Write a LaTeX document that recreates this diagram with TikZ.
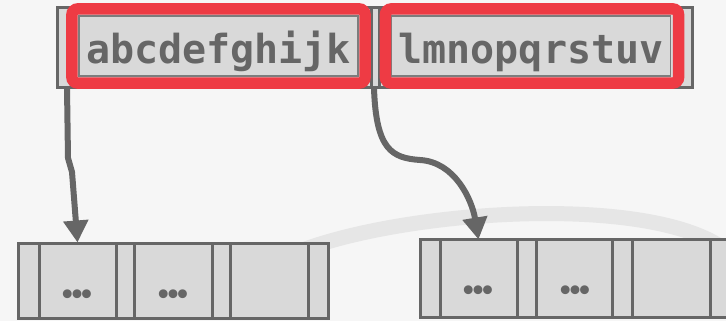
\documentclass[tikz,border=0pt]{standalone}
\usepackage{fontspec}
\usetikzlibrary{arrows.meta}
\newfontfamily\keyfont{DejaVu Sans Mono}
\newfontfamily\dotfont{DejaVu Sans}
\definecolor{bg}{HTML}{F6F6F6}
\definecolor{cellfill}{HTML}{D9D9D9}
\definecolor{edge}{HTML}{666666}
\definecolor{hl}{HTML}{EE3B44}
\definecolor{ghost}{HTML}{E6E6E6}
\newcommand{\threedots}{•\kern-6.4pt•\kern-6.4pt•}
\begin{document}
\begin{tikzpicture}[x=1pt,y=-1pt,
 cellbox/.style={draw=edge, fill=cellfill, line width=3pt, inner sep=0pt},
 keybox/.style={draw=edge!85, fill=cellfill, line width=1.2pt, inner sep=0pt, minimum width=279pt, text height=48pt, text depth=12pt, font=\keyfont\bfseries\fontsize{40}{40}\selectfont, text=edge},
 redbox/.style={draw=hl, line width=11.5pt, rounded corners=6pt},
 ptr/.style={draw=edge, line width=6pt, line join=round, -{Triangle[width=24pt,length=22pt]}},
 dotmark/.style={font=\dotfont\bfseries\fontsize{25}{25}\selectfont, text=edge, inner sep=0pt}
]
\useasboundingbox (0,0) rectangle (726,321);
\fill[bg] (0,0) rectangle (726,321);
\clip (0,0) rectangle (726,321);

% faint background arc
\draw[ghost, line width=15pt] (295,253) .. controls (400,210) and (655,192) .. (728,252);

% top node
\node[cellbox, minimum width=635pt, minimum height=80pt] (top) at (374.5,48) {};
\draw[edge, line width=3pt] (371.5,8) -- (371.5,88);
\draw[edge, line width=3pt] (379.5,8) -- (379.5,88);
\node[keybox] (K1) at (218.5,46) {abcdefghijk};
\node[keybox] (K2) at (531,46) {lmnopqrstuv};
\draw[redbox] ([shift={(-6.5,-6.5)}]K1.north west) rectangle ([shift={(6.5,6.5)}]K1.south east);
\draw[redbox] ([shift={(-5.5,-6.5)}]K2.north west) rectangle ([shift={(7.5,6.5)}]K2.south east);

% bottom left node
\node[cellbox, minimum width=21pt, minimum height=75pt] (L0) at (28.5,280.5) {};
\node[cellbox, minimum width=77pt, minimum height=75pt] (L1) at (77.5,280.5) {};
\node[cellbox, minimum width=18pt, minimum height=75pt] (L2) at (125,280.5) {};
\node[cellbox, minimum width=78pt, minimum height=75pt] (L3) at (173,280.5) {};
\node[cellbox, minimum width=18pt, minimum height=75pt] (L4) at (221,280.5) {};
\node[cellbox, minimum width=78pt, minimum height=75pt] (L5) at (269,280.5) {};
\node[cellbox, minimum width=20pt, minimum height=75pt] (L6) at (318,280.5) {};
\node[dotmark] (d1) at (77,297) {\threedots};
\node[dotmark] (d2) at (173,297) {\threedots};

% bottom right node
\node[cellbox, minimum width=20pt, minimum height=78pt] (R0) at (430,278) {};
\node[cellbox, minimum width=77pt, minimum height=78pt] (R1) at (478.5,278) {};
\node[cellbox, minimum width=19pt, minimum height=78pt] (R2) at (526.5,278) {};
\node[cellbox, minimum width=76pt, minimum height=78pt] (R3) at (574,278) {};
\node[cellbox, minimum width=20pt, minimum height=78pt] (R4) at (622,278) {};
\node[cellbox, minimum width=78pt, minimum height=78pt] (R5) at (671,278) {};
\node[cellbox, minimum width=20pt, minimum height=78pt] (R6) at (720,278) {};
\node[dotmark] (d3) at (478,293) {\threedots};
\node[dotmark] (d4) at (575,293) {\threedots};

% pointers
\coordinate (p1) at (67,88);
\coordinate (p2) at (374,88);
\draw[ptr] (p1) -- (68,158) -- (72,172) -- ([yshift=-1pt]L1.north);
\draw[ptr] (p2) .. controls (376,150) and (392,158) .. (420,160) .. controls (455,162) and (472,200) .. ([yshift=-2pt]R1.north);
\end{tikzpicture}
\end{document}
